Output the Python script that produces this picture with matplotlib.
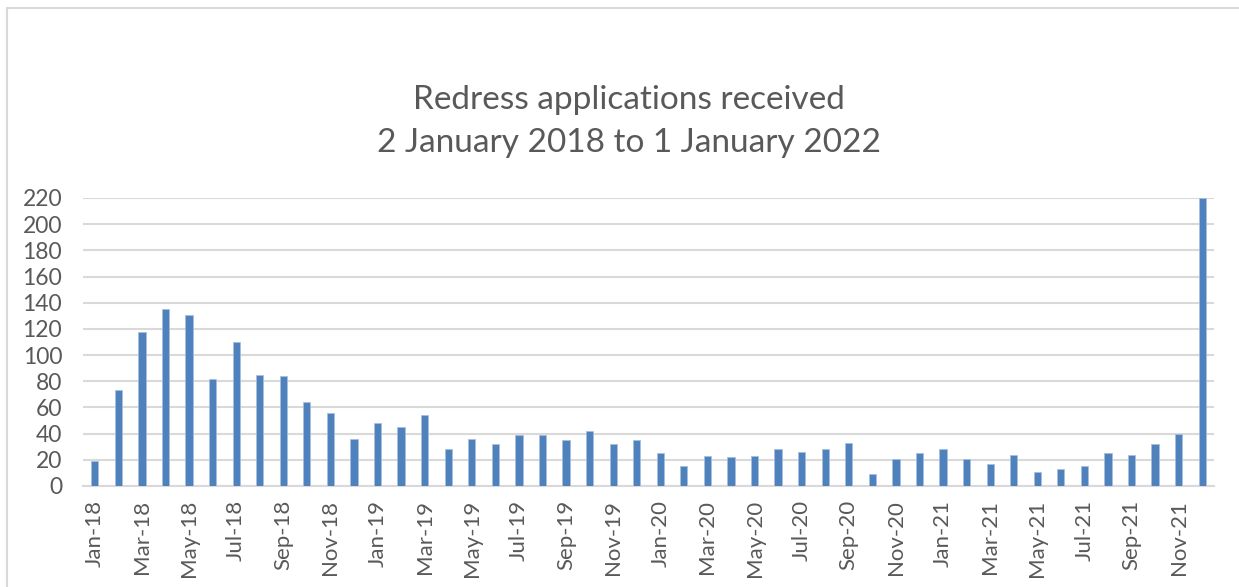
import matplotlib.pyplot as plt
import numpy as np
from matplotlib.patches import Rectangle

# monthly redress applications, Jan 2018 - Dec 2021
months = ['Jan', 'Feb', 'Mar', 'Apr', 'May', 'Jun',
          'Jul', 'Aug', 'Sep', 'Oct', 'Nov', 'Dec']
years = ['18', '19', '20', '21']
labels = [m + '-' + y for y in years for m in months]

received = [19, 73, 118, 135, 131, 82, 110, 85, 84, 64, 56, 36,
            48, 45, 54, 28, 36, 32, 39, 39, 35, 42, 32, 35,
            25, 15, 23, 22, 23, 28, 26, 28, 33, 9, 21, 25,
            28, 21, 17, 24, 11, 13, 15, 25, 24, 32, 40, 220]

yticks = list(range(0, 221, 20))

plt.rcParams['font.family'] = ['Lato', 'DejaVu Sans']
grey = '#595959'

fig = plt.figure(figsize=(12.39, 5.87), dpi=100)
ax = fig.add_axes([83/1239, 1 - 486/587, (1214 - 83)/1239, (486 - 198)/587])

x = np.arange(len(received))
ax.bar(x, received, width=0.31, color='#4F81BD', edgecolor='#A7BFDE',
       linewidth=0.6, zorder=3)

ax.set_xlim(-0.5, len(received) - 0.5)
ax.set_ylim(0, 220)
ax.set_yticks(yticks)
ax.set_yticklabels([str(v) for v in yticks], fontsize=16.5, color=grey)
ax.set_xticks(x[::2])
ax.set_xticklabels(labels[::2], rotation=90, fontsize=16, color=grey)
ax.tick_params(length=0)
ax.tick_params(axis='x', pad=10)
ax.tick_params(axis='y', pad=15)

ax.grid(axis='y', color='#D9D9D9', linewidth=1.5, zorder=0)
for s in ['top', 'right', 'left']:
    ax.spines[s].set_visible(False)
ax.spines['bottom'].set_color('#D9D9D9')
ax.spines['bottom'].set_linewidth(1.5)

fig.text(0.508, 1 - 100/587, 'Redress applications received',
         ha='center', va='center', fontsize=24, color=grey)
fig.text(0.508, 1 - 143/587, '2 January 2018 to 1 January 2022',
         ha='center', va='center', fontsize=24, color=grey)

# chart area border
fig.patches.append(Rectangle((7/1239, -0.1), 1.1, 1 - 8/587 + 0.1,
                             transform=fig.transFigure, fill=False,
                             edgecolor='#D9D9D9', linewidth=1.5))

fig.savefig('out.png', dpi=100)
